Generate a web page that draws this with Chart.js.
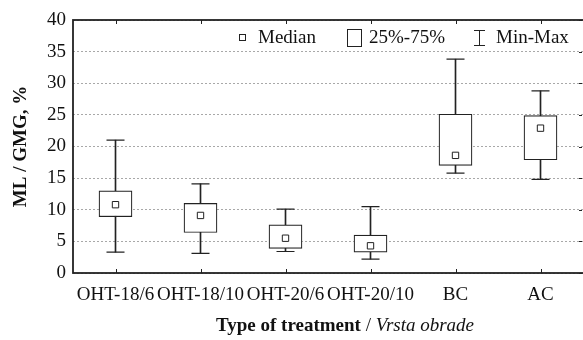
<!DOCTYPE html>
<html>
<head>
<meta charset="utf-8">
<script src="https://cdn.jsdelivr.net/npm/chart.js@4/dist/chart.umd.min.js"></script>
<style>
  html, body { margin: 0; padding: 0; background: #fff; overflow: hidden; }
  canvas { display: block; }
</style>
</head>
<body>
<canvas id="boxChart" width="583" height="340"></canvas>
<script>
// values
var categories = ['OHT-18/6', 'OHT-18/10', 'OHT-20/6', 'OHT-20/10', 'BC', 'AC'];
var minVals    = [3.3, 3.1, 3.4, 2.2, 15.8, 14.8];
var q1Vals     = [8.9, 6.4, 3.9, 3.3, 17.0, 17.9];
var medianVals = [10.8, 9.1, 5.5, 4.3, 18.6, 22.9];
var q3Vals     = [13.0, 11.0, 7.6, 6.0, 25.1, 24.9];
var maxVals    = [21.0, 14.1, 10.1, 10.5, 33.8, 28.8];

var serif = 'Liberation Serif';
var ink = '#222';

var whiskers = categories.map(function(c, i) { return [minVals[i], maxVals[i]]; });
var boxes = categories.map(function(c, i) { return [q1Vals[i], q3Vals[i]]; });

var decor = {
	id: 'decor',
	afterDraw: function(chart) {
		var ctx = chart.ctx, a = chart.chartArea;
		var x = chart.scales.x, y = chart.scales.y;
		ctx.save();
		ctx.strokeStyle = ink;
		ctx.lineWidth = 1;
		// small inward ticks
		ctx.beginPath();
		for (var i = 0; i < categories.length; i++) {
			var px = Math.round(x.getPixelForValue(i)) + 0.5;
			ctx.moveTo(px, a.top); ctx.lineTo(px, a.top + 4);
			ctx.moveTo(px, a.bottom); ctx.lineTo(px, a.bottom - 4);
		}
		y.ticks.forEach(function(t) {
			var py = Math.round(y.getPixelForValue(t.value)) + 0.5;
			ctx.moveTo(a.right - 1, py); ctx.lineTo(a.right - 4, py);
		});
		ctx.stroke();
		// frame (right side sits just past the picture edge)
		ctx.lineWidth = 1.8;
		ctx.strokeRect(a.left, a.top, a.right - a.left + 2, a.bottom - a.top);

		// legend
		ctx.lineWidth = 1;
		ctx.fillStyle = '#fff';
		ctx.fillRect(239, 34, 6, 6);
		ctx.strokeRect(239.5, 34.5, 6, 6);
		ctx.strokeRect(347.5, 29.5, 14, 17);
		ctx.beginPath();
		ctx.moveTo(479.5, 30); ctx.lineTo(479.5, 46);
		ctx.moveTo(474, 30.5); ctx.lineTo(485, 30.5);
		ctx.moveTo(474, 45.5); ctx.lineTo(485, 45.5);
		ctx.stroke();
		ctx.fillStyle = '#111';
		ctx.font = '19px "' + serif + '"';
		ctx.textBaseline = 'middle';
		ctx.textAlign = 'left';
		ctx.fillText('Median', 258, 38);
		ctx.fillText('25%-75%', 369, 38);
		ctx.fillText('Min-Max', 496, 38);

		// x title: bold + italic parts
		var p1 = 'Type of treatment', p2 = ' / ', p3 = 'Vrsta obrade';
		var f1 = 'bold 19px "' + serif + '"', f2 = '19px "' + serif + '"', f3 = 'italic 19px "' + serif + '"';
		ctx.font = f1; var w1 = ctx.measureText(p1).width;
		ctx.font = f2; var w2 = ctx.measureText(p2).width;
		ctx.font = f3; var w3 = ctx.measureText(p3).width;
		var sx = 345 - (w1 + w2 + w3) / 2, ty = 326;
		ctx.font = f1; ctx.fillText(p1, sx, ty);
		ctx.font = f2; ctx.fillText(p2, sx + w1, ty);
		ctx.font = f3; ctx.fillText(p3, sx + w1 + w2, ty);
		ctx.restore();
	}
};

var ctx = document.getElementById('boxChart').getContext('2d');
var boxChart = new Chart(ctx, {
	type: 'bar',
	data: {
		labels: categories,
		datasets: [{
			label: 'Min-Max',
			data: whiskers,
			backgroundColor: ink,
			borderWidth: 0,
			barThickness: 1,
			grouped: false,
			order: 4
		}, {
			label: '25%-75%',
			data: boxes,
			backgroundColor: '#fff',
			borderColor: ink,
			borderWidth: 1.2,
			borderSkipped: false,
			barThickness: 33,
			grouped: false,
			order: 3
		}, {
			type: 'line',
			label: 'min',
			data: minVals,
			showLine: false,
			pointStyle: 'line',
			pointRadius: 9,
			pointBorderWidth: 1.2,
			borderColor: ink,
			order: 2
		}, {
			type: 'line',
			label: 'max',
			data: maxVals,
			showLine: false,
			pointStyle: 'line',
			pointRadius: 9,
			pointBorderWidth: 1.2,
			borderColor: ink,
			order: 2
		}, {
			type: 'line',
			label: 'Median',
			data: medianVals,
			showLine: false,
			pointStyle: 'rect',
			pointRadius: 4.5,
			pointBorderWidth: 1,
			pointBackgroundColor: '#fff',
			borderColor: ink,
			order: 1
		}]
	},
	options: {
		responsive: false,
		animation: false,
		layout: { autoPadding: false, padding: { top: 20, right: -2, left: 0, bottom: 0 } },
		plugins: {
			legend: { display: false },
			tooltip: { enabled: false }
		},
		scales: {
			x: {
				offset: true,
				grid: { display: false, drawTicks: false },
				border: { display: false },
				ticks: {
					color: '#111',
					font: { family: serif, size: 19 },
					padding: 11,
					maxRotation: 0,
					autoSkip: false
				},
				afterFit: function(scale) {
					scale.height = 67;
					scale.paddingLeft = 0;
					scale.paddingRight = -2;
				}
			},
			y: {
				min: 0,
				max: 40,
				grid: { color: '#a8a8a8', lineWidth: 1, drawTicks: false },
				border: { display: false, dash: [2, 2] },
				ticks: {
					stepSize: 5,
					color: '#111',
					font: { family: serif, size: 19 },
					padding: 7
				},
				title: {
					display: true,
					text: 'ML / GMG, %',
					color: '#111',
					font: { family: serif, size: 19, weight: 'bold' },
					padding: { top: 10, bottom: 0 }
				},
				afterFit: function(scale) { scale.width = 73; }
			}
		}
	},
	plugins: [decor]
});
</script>
</body>
</html>
